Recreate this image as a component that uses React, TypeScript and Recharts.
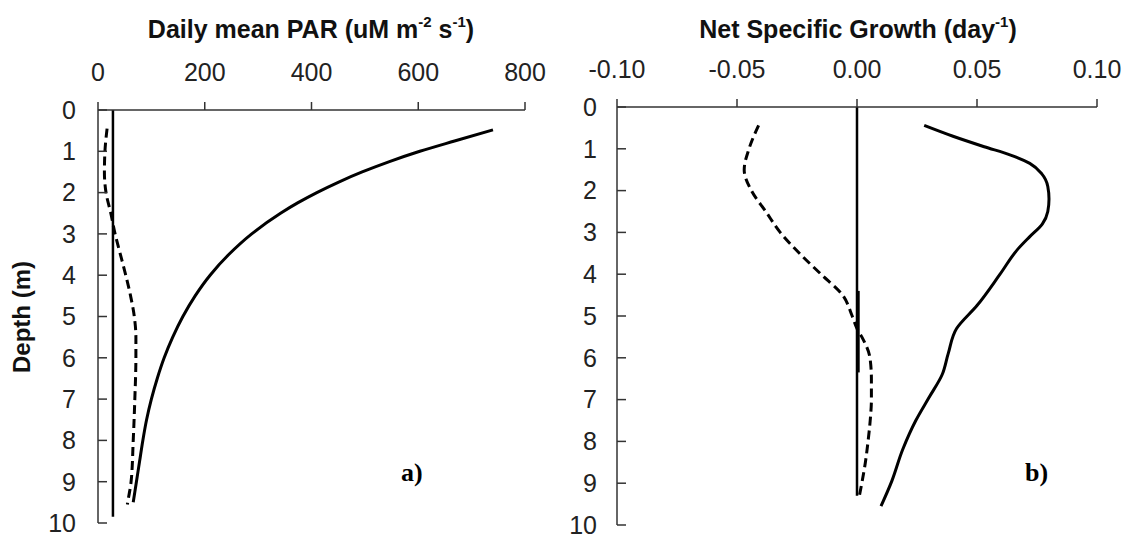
import React from 'react';
import { LineChart, Line, XAxis, YAxis } from 'recharts';

// depth ticks shared by both panels
const depthTicks = [0, 1, 2, 3, 4, 5, 6, 7, 8, 9, 10];
const parTicks = [0, 200, 400, 600, 800];
const growthTicks = [-0.1, -0.05, 0, 0.05, 0.1];

// panel a) daily mean PAR
const parSolidDepth = [0.48, 0.75, 1.0, 1.25, 1.5, 1.75, 2.0, 2.25, 2.5, 3.0, 3.5, 4.0, 4.5, 5.0, 5.5, 6.0, 6.5, 7.0, 7.5, 8.0, 8.5, 9.0, 9.5];
const parSolidValue = [740, 668, 603, 546, 495, 450, 410, 374, 342, 288, 245, 210, 182, 159, 140, 124, 111, 100, 91, 84, 78, 72, 66];
const parDashedDepth = [0.45, 1.0, 1.5, 2.0, 2.5, 3.0, 3.5, 4.0, 4.5, 5.0, 5.5, 6.0, 7.0, 8.0, 9.0, 9.4, 9.55];
const parDashedValue = [17, 13, 12, 15, 24, 32, 42, 52, 61, 68, 71, 71, 69, 66, 62, 57, 55];
const parRefDepth = [0, 9.85];
const parRefValue = [28, 28];

// panel b) net specific growth
const growthSolidDepth = [0.44, 0.7, 0.95, 1.15, 1.35, 1.6, 1.9, 2.2, 2.5, 2.8, 3.1, 3.4, 4.0, 4.75, 5.3, 5.9, 6.4, 6.95, 7.5, 8.2, 8.95, 9.55];
const growthSolidValue = [0.028, 0.04, 0.053, 0.064, 0.072, 0.077, 0.0795, 0.08, 0.0795, 0.0772, 0.072, 0.067, 0.0596, 0.05, 0.0415, 0.038, 0.0355, 0.03, 0.0245, 0.019, 0.0145, 0.01];
const growthDashedDepth = [0.44, 1.0, 1.5, 2.0, 2.5, 3.0, 3.5, 4.0, 4.5, 5.0, 5.3, 5.5, 6.0, 6.5, 7.0, 7.5, 8.0, 8.5, 9.0, 9.3];
const growthDashedValue = [-0.041, -0.045, -0.047, -0.044, -0.038, -0.032, -0.024, -0.015, -0.006, -0.002, 0.0, 0.002, 0.0054, 0.006, 0.006, 0.0055, 0.0046, 0.0035, 0.002, 0.001];
const zeroDepth = [0, 9.3];
const zeroValue = [0, 0];
const zeroBoldDepth = [4.4, 6.35];
const zeroBoldValue = [0.0004, 0.0004];

const toRows = (depth: number[], value: number[]) => depth.map((d, i) => ({ d, v: value[i] }));

const font = '"Liberation Sans", Arial, Helvetica, sans-serif';
const tickStyle = { fill: '#222', fontSize: 25, fontFamily: font };
const axisStroke = { stroke: '#333', strokeWidth: 1.5 };

const titleStyle: React.CSSProperties = {
  position: 'absolute',
  top: 14,
  transform: 'translateX(-50%)',
  whiteSpace: 'nowrap',
  fontFamily: font,
  fontWeight: 'bold',
  fontSize: 25,
  lineHeight: '30px',
  color: '#111',
};
const supStyle: React.CSSProperties = { fontSize: '0.6em', lineHeight: 0, verticalAlign: '0.75em' };
const panelLabel: React.CSSProperties = {
  position: 'absolute',
  top: 456,
  fontFamily: '"Liberation Serif", "Times New Roman", serif',
  fontWeight: 'bold',
  fontSize: 26,
  lineHeight: '34px',
  color: '#000',
};

function line(rows: { d: number; v: number }[], key: string, dashed = false, width = 3) {
  return (
    <Line
      key={key}
      data={rows}
      dataKey="v"
      type="monotone"
      stroke="#000"
      strokeWidth={width}
      strokeDasharray={dashed ? '9 5' : undefined}
      dot={false}
      activeDot={false}
      isAnimationActive={false}
    />
  );
}

export default function App() {
  return (
    <div style={{ position: 'absolute', left: 0, top: 0, width: 1126, height: 535, background: '#fff' }}>
      <div style={{ ...titleStyle, left: 311 }}>
        Daily mean PAR (uM m<span style={supStyle}>-2</span> s<span style={supStyle}>-1</span>)
      </div>
      <div style={{ ...titleStyle, left: 858 }}>
        Net Specific Growth (day<span style={supStyle}>-1</span>)
      </div>
      <div
        style={{
          position: 'absolute',
          left: 22,
          top: 317,
          transform: 'translate(-50%, -50%) rotate(-90deg)',
          whiteSpace: 'nowrap',
          fontFamily: font,
          fontWeight: 'bold',
          fontSize: 24,
          color: '#111',
        }}
      >
        Depth (m)
      </div>

      <div style={{ position: 'absolute', left: 0, top: 0 }}>
        <LineChart width={560} height={535} layout="vertical" margin={{ top: 50, right: 35, bottom: 12, left: 38 }}>
          <XAxis
            type="number"
            orientation="top"
            domain={[0, 800]}
            ticks={parTicks}
            height={60}
            tick={tickStyle}
            tickSize={8}
            tickMargin={21}
            axisLine={axisStroke}
            tickLine={axisStroke}
            interval={0}
          />
          <YAxis
            type="number"
            dataKey="d"
            domain={[0, 10]}
            ticks={depthTicks}
            width={60}
            tick={tickStyle}
            tickSize={-9}
            tickMargin={31}
            axisLine={axisStroke}
            tickLine={axisStroke}
            interval={0}
          />
          {line(toRows(parRefDepth, parRefValue), 'ref', false, 2.5)}
          {line(toRows(parDashedDepth, parDashedValue), 'dashed', true)}
          {line(toRows(parSolidDepth, parSolidValue), 'solid')}
        </LineChart>
      </div>

      <div style={{ position: 'absolute', left: 560, top: 0 }}>
        <LineChart width={566} height={535} layout="vertical" margin={{ top: 47, right: 29, bottom: 10, left: 7 }}>
          <XAxis
            type="number"
            orientation="top"
            domain={[-0.1, 0.1]}
            ticks={growthTicks}
            height={60}
            tick={tickStyle}
            tickFormatter={(v: number) => v.toFixed(2)}
            tickSize={8}
            tickMargin={21}
            axisLine={axisStroke}
            tickLine={axisStroke}
            interval={0}
            allowDataOverflow
          />
          <YAxis
            type="number"
            dataKey="d"
            domain={[0, 10]}
            ticks={depthTicks}
            width={50}
            tick={tickStyle}
            tickSize={-9}
            tickMargin={29}
            axisLine={axisStroke}
            tickLine={axisStroke}
            interval={0}
          />
          {line(toRows(zeroDepth, zeroValue), 'zero', false, 2.5)}
          {line(toRows(zeroBoldDepth, zeroBoldValue), 'zeroBold', false, 3.5)}
          {line(toRows(growthDashedDepth, growthDashedValue), 'dashed', true)}
          {line(toRows(growthSolidDepth, growthSolidValue), 'solid')}
        </LineChart>
      </div>

      <div style={{ ...panelLabel, left: 401 }}>a)</div>
      <div style={{ ...panelLabel, left: 1025 }}>b)</div>
    </div>
  );
}
